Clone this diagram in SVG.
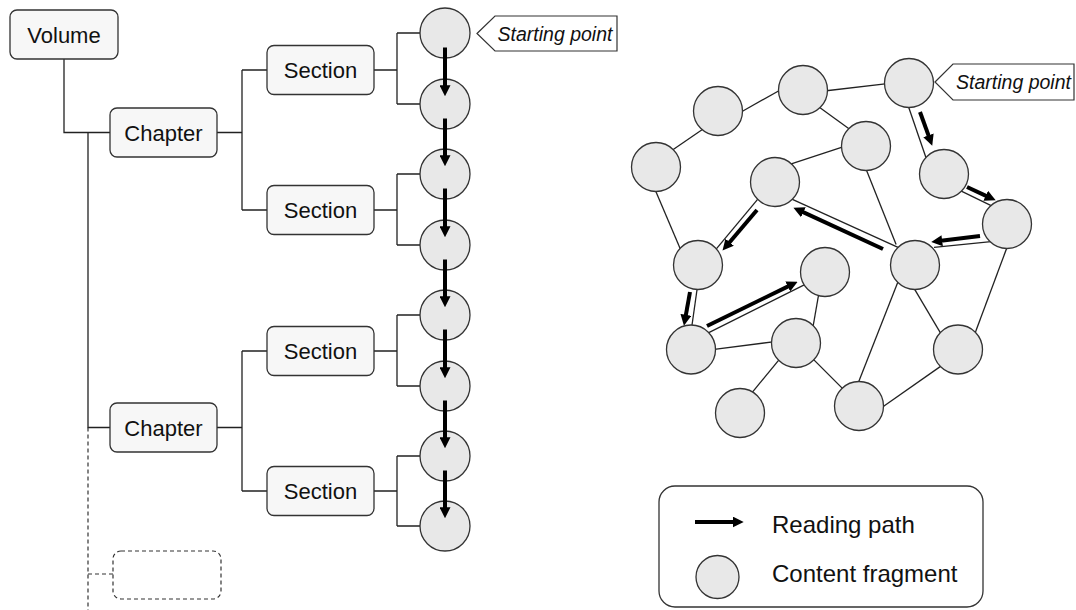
<svg xmlns="http://www.w3.org/2000/svg" width="1076" height="610" viewBox="0 0 1076 610">
<style>
.box{fill:#f7f7f7;stroke:#333;stroke-width:1.3}
.dbox{fill:none;stroke:#333;stroke-width:1.2;stroke-dasharray:4 3}
.ln{stroke:#222;stroke-width:1.3;fill:none}
.dl{stroke:#333;stroke-width:1.2;fill:none;stroke-dasharray:4 3}
.frag{fill:#e8e8e8;stroke:#333;stroke-width:1.3}
.arr{stroke:#000;stroke-width:4;fill:none;marker-end:url(#ah)}
.t{font-family:"Liberation Sans",Arial,sans-serif;font-size:22px;fill:#111;text-anchor:middle}
.sp{font-family:"Liberation Sans",Arial,sans-serif;font-size:19.5px;font-style:italic;fill:#111;text-anchor:middle}
.lg{font-family:"Liberation Sans",Arial,sans-serif;font-size:24px;fill:#111}
.call{fill:#fff;stroke:#333;stroke-width:1.2}
</style>
<defs>
<marker id="ah" markerUnits="userSpaceOnUse" markerWidth="11" markerHeight="11" refX="3" refY="5" orient="auto" viewBox="0 0 10 10">
<path d="M0,0 L10,5 L0,10 z" fill="#000"/>
</marker>
</defs>

<g id="connectors">
<!-- tree -->
<path class="ln" d="M64,59 V132.5 H110"/>
<path class="ln" d="M88,132.5 V427.5 H110"/>
<path class="dl" d="M88,427.5 V610"/>
<path class="dl" d="M88,574 H113"/>
<path class="ln" d="M217,132.5 H242 M242,70 V210 M242,70 H267 M242,210 H267"/>
<path class="ln" d="M217,427.5 H242 M242,351 V491 M242,351 H267 M242,491 H267"/>
<path class="ln" d="M374,70 H397 M397,33 V104 M397,33 H420 M397,104 H420"/>
<path class="ln" d="M374,210 H397 M397,174 V245 M397,174 H420 M397,245 H420"/>
<path class="ln" d="M374,351 H397 M397,315 V386 M397,315 H420 M397,386 H420"/>
<path class="ln" d="M374,491 H397 M397,456 V526 M397,456 H420 M397,526 H420"/>
<!-- network edges -->
<line class="ln" x1="672.5" y1="150" x2="704.2" y2="128.3"/>
<line class="ln" x1="740.7" y1="112.2" x2="781.6" y2="89.2"/>
<line class="ln" x1="824.3" y1="91" x2="887.3" y2="83.6"/>
<line class="ln" x1="817.6" y1="105.9" x2="850.7" y2="130.1"/>
<line class="ln" x1="844.5" y1="146.4" x2="790.5" y2="164.2"/>
<line class="ln" x1="654.8" y1="189" x2="681.2" y2="251"/>
<line class="ln" x1="865.6" y1="167.9" x2="896.1" y2="244.5"/>
<line class="ln" x1="1007.7" y1="245.5" x2="974" y2="336.1"/>
<line class="ln" x1="913.5" y1="287.4" x2="942.2" y2="335.9"/>
<line class="ln" x1="818.8" y1="293.7" x2="812.8" y2="328"/>
<line class="ln" x1="780.2" y1="358.4" x2="751.4" y2="393.3"/>
<line class="ln" x1="811.9" y1="357.9" x2="844.4" y2="390.4"/>
<line class="ln" x1="881.5" y1="407.7" x2="940.2" y2="366.6"/>
<line class="ln" x1="857.9" y1="383.8" x2="903.3" y2="268.2"/>
<line class="ln" x1="712.3" y1="349.7" x2="774.7" y2="341.6"/>
<!-- path edges -->
<line class="ln" x1="908" y1="105.2" x2="926" y2="157.8"/>
<line class="ln" x1="960.3" y1="190.7" x2="992.7" y2="206.3"/>
<line class="ln" x1="991" y1="241.7" x2="934" y2="247.3"/>
<line class="ln" x1="899.7" y1="248.2" x2="791.3" y2="198.8"/>
<line class="ln" x1="759.9" y1="196.7" x2="715.1" y2="250.3"/>
<line class="ln" x1="697.4" y1="287" x2="691.6" y2="328"/>
<line class="ln" x1="707.3" y1="333.3" x2="804.7" y2="284.7"/>
</g>

<g id="volume"><rect class="box" x="10" y="10" width="108" height="49" rx="7"/><text class="t" x="64" y="42.5">Volume</text></g>
<g id="chapter1"><rect class="box" x="110" y="108" width="107" height="49" rx="7"/><text class="t" x="163.5" y="140.5">Chapter</text></g>
<g id="chapter2"><rect class="box" x="110" y="403" width="107" height="49" rx="7"/><text class="t" x="163.5" y="435.5">Chapter</text></g>
<g id="placeholder"><rect class="dbox" x="113" y="551" width="108" height="48" rx="8"/></g>
<g id="section1"><rect class="box" x="267" y="45.5" width="107" height="49" rx="7"/><text class="t" x="320.5" y="78">Section</text></g>
<g id="section2"><rect class="box" x="267" y="185.5" width="107" height="49" rx="7"/><text class="t" x="320.5" y="218">Section</text></g>
<g id="section3"><rect class="box" x="267" y="326.5" width="107" height="49" rx="7"/><text class="t" x="320.5" y="359">Section</text></g>
<g id="section4"><rect class="box" x="267" y="466.5" width="107" height="49" rx="7"/><text class="t" x="320.5" y="499">Section</text></g>

<g id="tree-fragments">
<circle class="frag" cx="445" cy="33" r="25"/>
<circle class="frag" cx="445" cy="104" r="25"/>
<circle class="frag" cx="445" cy="174" r="25"/>
<circle class="frag" cx="445" cy="245" r="25"/>
<circle class="frag" cx="445" cy="315" r="25"/>
<circle class="frag" cx="445" cy="386" r="25"/>
<circle class="frag" cx="445" cy="456" r="25"/>
<circle class="frag" cx="445" cy="526" r="25"/>
</g>

<g id="start1"><path class="call" d="M477,33.5 L495,16 H617 V51 H495 z"/><text class="sp" x="555" y="40.5">Starting point</text></g>

<g id="net-fragments">
<circle class="frag" cx="656" cy="167" r="24.5"/>
<circle class="frag" cx="718" cy="111" r="24.5"/>
<circle class="frag" cx="803" cy="90" r="24.5"/>
<circle class="frag" cx="909" cy="83" r="24.5"/>
<circle class="frag" cx="866" cy="146" r="24.5"/>
<circle class="frag" cx="775" cy="182" r="24.5"/>
<circle class="frag" cx="944" cy="174" r="24.5"/>
<circle class="frag" cx="1007" cy="224" r="24.5"/>
<circle class="frag" cx="915" cy="265" r="24.5"/>
<circle class="frag" cx="698" cy="265" r="24.5"/>
<circle class="frag" cx="825" cy="272" r="24.5"/>
<circle class="frag" cx="691" cy="349.5" r="24.5"/>
<circle class="frag" cx="796" cy="343" r="24.5"/>
<circle class="frag" cx="958" cy="349.5" r="24.5"/>
<circle class="frag" cx="740" cy="413" r="24.5"/>
<circle class="frag" cx="859" cy="406" r="24.5"/>
</g>

<g id="start2"><path class="call" d="M935,82 L953,64 H1074 V100 H953 z"/><text class="sp" x="1013.5" y="89">Starting point</text></g>

<g id="reading-paths">
<line class="arr" x1="445" y1="47.5" x2="445" y2="88.5"/>
<line class="arr" x1="445" y1="118.5" x2="445" y2="158.5"/>
<line class="arr" x1="445" y1="188.5" x2="445" y2="229.5"/>
<line class="arr" x1="445" y1="259.5" x2="445" y2="299.5"/>
<line class="arr" x1="445" y1="329.5" x2="445" y2="370.5"/>
<line class="arr" x1="445" y1="400.5" x2="445" y2="440.5"/>
<line class="arr" x1="445" y1="470.5" x2="445" y2="510.5"/>
<line class="arr" x1="920" y1="112" x2="929.6" y2="138.4"/>
<line class="arr" x1="967" y1="187" x2="988.7" y2="197.1"/>
<line class="arr" x1="980" y1="236" x2="938.9" y2="241.1"/>
<line class="arr" x1="883" y1="249" x2="800.4" y2="210.9"/>
<line class="arr" x1="757" y1="210" x2="727.5" y2="244.7"/>
<line class="arr" x1="690" y1="292" x2="685.3" y2="318.1"/>
<line class="arr" x1="707" y1="326" x2="790.7" y2="285.1"/>
</g>

<g id="legend">
<rect x="659" y="486" width="324" height="121" rx="16" fill="#fff" stroke="#333" stroke-width="1.3"/>
<line class="arr" x1="695" y1="522" x2="736" y2="522"/>
<text class="lg" x="772" y="533">Reading path</text>
<circle class="frag" cx="717.5" cy="577" r="21.5"/>
<text class="lg" x="772" y="582">Content fragment</text>
</g>
</svg>
